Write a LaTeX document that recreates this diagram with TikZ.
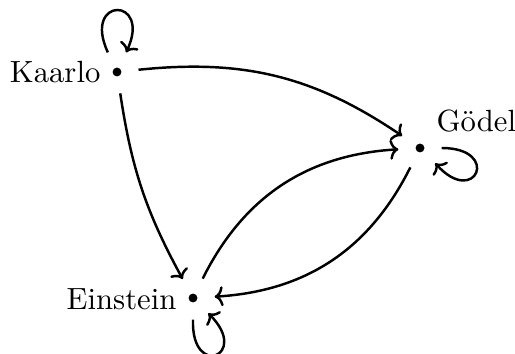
\documentclass[tikz,border=0pt]{standalone}
\usetikzlibrary{arrows.meta}
\begin{document}
\begin{tikzpicture}[x=0.326pt,y=0.326pt,
  vtx/.style={circle,inner sep=0pt,minimum size=42*0.326pt},
  lbl/.style={inner sep=0pt},
  edge/.style={line width=0.8pt,-{To[length=2.8pt,width=6.5pt]}}]
\useasboundingbox (0,0) rectangle (515,354);
\node[vtx] (K) at (117,282) {};
\node[vtx] (G) at (420,206) {};
\node[vtx] (E) at (193,56) {};
\fill (K.center) circle (1.45pt);
\fill (G.center) circle (1.45pt);
\fill (E.center) circle (1.45pt);
\node[lbl,anchor=base east] (Kl) at (101,271) {Kaarlo};
\node[lbl,anchor=base west] (Gl) at (436,222) {Gödel};
\node[lbl,anchor=base east] (El) at (177,44) {Einstein};
\draw[edge] (K) to[bend left=20] (G);
\draw[edge] (K) to[bend right=10] (E);
\draw[edge] (E) to[bend left=30] (G);
\draw[edge] (G) to[bend left=30] (E);
\draw[edge] (K.115) .. controls +(115:62) and +(65:62) .. (K.65);
\draw[edge] (G.0) .. controls +(0:60) and +(-48:60) .. (G.-45);
\draw[edge] (E.-90) .. controls +(-92:60) and +(-45:60) .. (E.-45);
\end{tikzpicture}
\end{document}
